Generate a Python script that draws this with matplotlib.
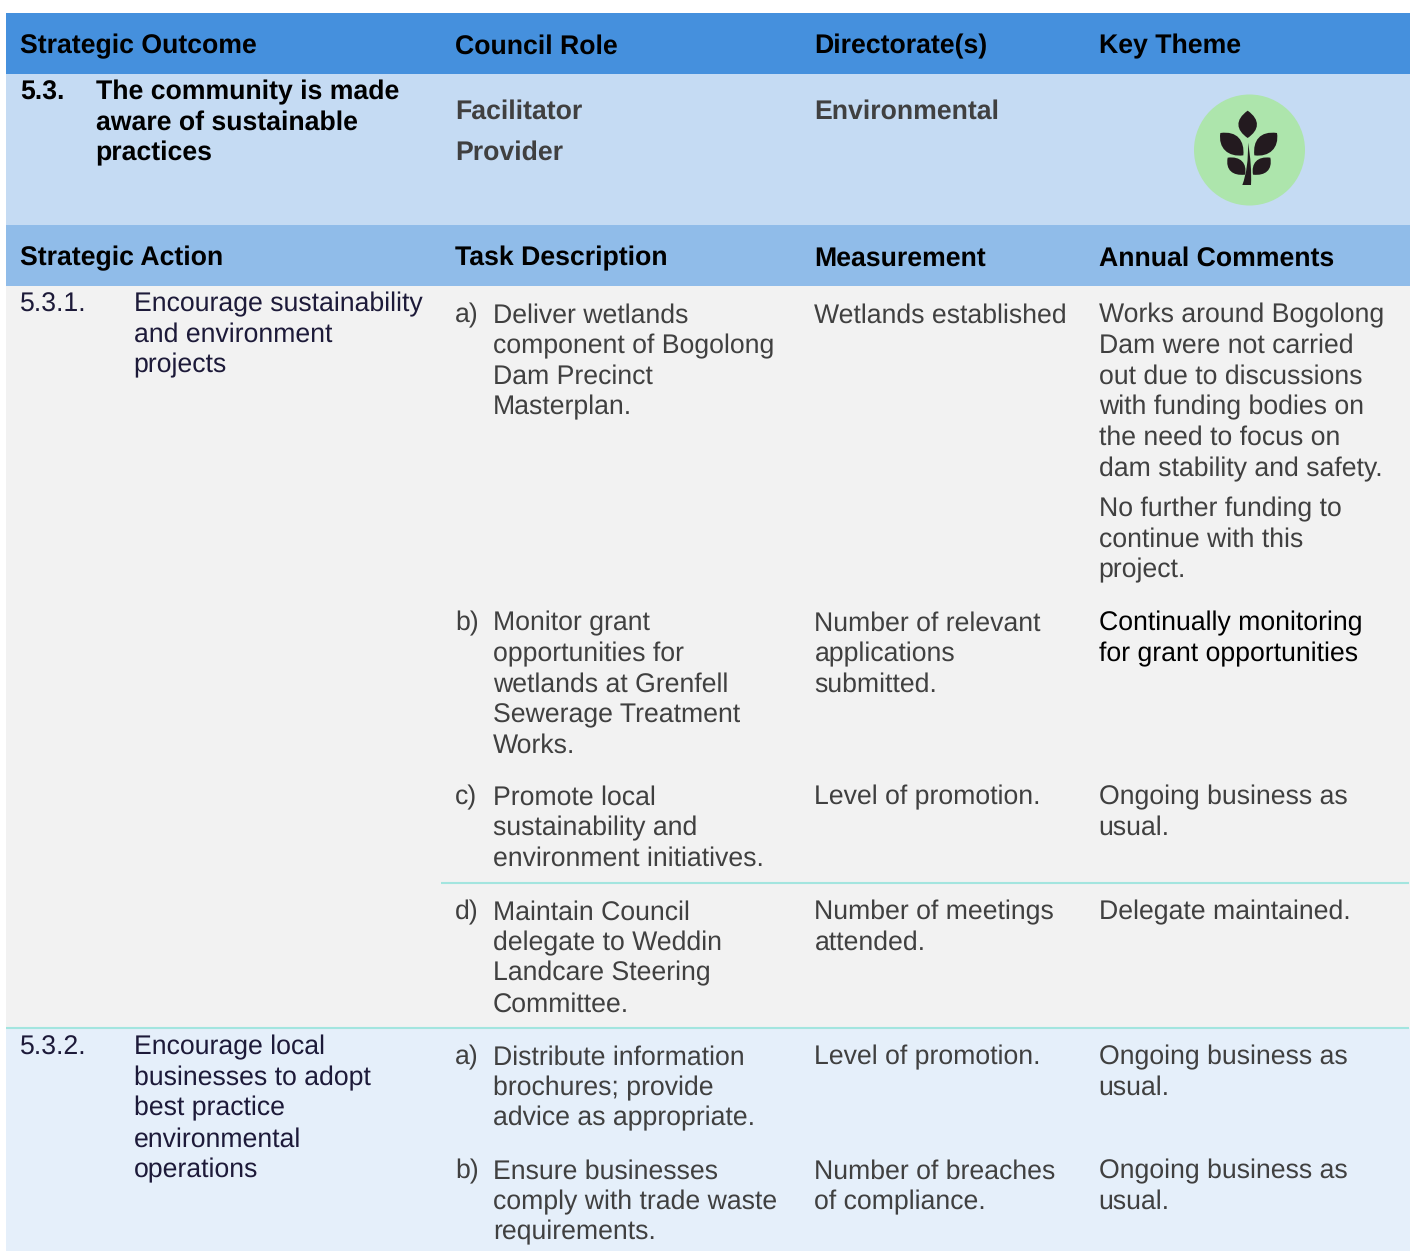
import matplotlib
matplotlib.use("Agg")
import matplotlib.pyplot as plt
import matplotlib.patches as patches
from matplotlib.path import Path

plt.rcParams['font.family'] = ['Liberation Sans', 'DejaVu Sans']
plt.rcParams['text.hinting'] = 'no_hinting'

header_top = ["Strategic Outcome", "Council Role", "Directorate(s)", "Key Theme"]
header_action = ["Strategic Action", "Task Description", "Measurement", "Annual Comments"]
outcome_no = "5.3."
outcome_text = ["The community is made", "aware of sustainable", "practices"]
council_roles = ["Facilitator", "Provider"]
directorate = "Environmental"

action_1_no = "5.3.1."
action_1 = ["Encourage sustainability", "and environment", "projects"]
action_2_no = "5.3.2."
action_2 = ["Encourage local", "businesses to adopt", "best practice", "environmental", "operations"]

task_labels = ["a)", "b)", "c)", "d)", "a)", "b)"]
tasks = [
    ["Deliver wetlands", "component of Bogolong", "Dam Precinct", "Masterplan."],
    ["Monitor grant", "opportunities for", "wetlands at Grenfell", "Sewerage Treatment", "Works."],
    ["Promote local", "sustainability and", "environment initiatives."],
    ["Maintain Council", "delegate to Weddin", "Landcare Steering", "Committee."],
    ["Distribute information", "brochures; provide", "advice as appropriate."],
    ["Ensure businesses", "comply with trade waste", "requirements."],
]
measures = [
    ["Wetlands established"],
    ["Number of relevant", "applications", "submitted."],
    ["Level of promotion."],
    ["Number of meetings", "attended."],
    ["Level of promotion."],
    ["Number of breaches", "of compliance."],
]
comments = [
    ["Works around Bogolong", "Dam were not carried", "out due to discussions", "with funding bodies on",
     "the need to focus on", "dam stability and safety."],
    ["Continually monitoring", "for grant opportunities"],
    ["Ongoing business as", "usual."],
    ["Delegate maintained."],
    ["Ongoing business as", "usual."],
    ["Ongoing business as", "usual."],
]
comment_extra = ["No further funding to", "continue with this", "project."]

row_y = [313, 621, 795, 910, 1055, 1169]
col_x = [20, 455, 814.5, 1098.7]
LINE = 30.7
SIZE = 19.2
GREY = '#404040'
NAVY = '#1d1a39'


def block(ax, x, y, lines, color=GREY, weight='normal'):
    # y is the vertical centre of the first line, in pixels
    for i, line in enumerate(lines):
        ax.text(x, y + i * LINE + 9.4, line, color=color, fontsize=SIZE, fontweight=weight, va='baseline', ha='left')


def band(ax, y0, y1, color):
    ax.add_patch(patches.Rectangle((6, y0), 1404, y1 - y0, facecolor=color, edgecolor='none'))


def icon(ax):
    def conv(pts):
        return [(1150 + px / 3, 70 + py / 3) for px, py in pts]
    C3, C4, M, L = Path.CURVE3, Path.CURVE4, Path.MOVETO, Path.LINETO
    leaf = [M, C4, C4, C4, C4, C4, C4]
    shapes = [
        ([(293, 122), (332, 150), (328, 180), (293, 204), (258, 180), (254, 150), (293, 122)], leaf),
        ([(211, 189), (262, 182), (284, 212), (280, 256), (234, 262), (204, 234), (211, 189)], leaf),
        ([(381, 189), (330, 182), (308, 212), (313, 256), (358, 262), (388, 234), (381, 189)], leaf),
        ([(233, 263), (272, 258), (292, 280), (285, 314), (248, 318), (226, 300), (233, 263)], leaf),
        ([(361, 263), (322, 258), (303, 280), (309, 314), (346, 318), (368, 300), (361, 263)], leaf),
        ([(294, 218), (306, 285), (303, 345), (277, 345), (296, 295), (294, 218)], [M, C3, C3, L, C3, C3]),
    ]
    for pts, codes in shapes:
        ax.add_patch(patches.PathPatch(Path(conv(pts), codes), facecolor='#231a1f', edgecolor='none'))


fig = plt.figure(figsize=(14.15, 12.51), dpi=100)
ax = fig.add_axes([0, 0, 1, 1])
ax.set_xlim(0, 1415)
ax.set_ylim(1251, 0)
ax.axis('off')

band(ax, 13, 74, '#4590dd')
band(ax, 74, 225, '#c5dbf3')
band(ax, 225, 286, '#90bce9')
band(ax, 286, 1028, '#f2f2f2')
band(ax, 1028, 1251, '#e5effa')

ax.plot([441, 1409], [883, 883], color='#a3e5df', lw=1.5, solid_capstyle='butt')
ax.plot([6, 1409], [1028, 1028], color='#a3e5df', lw=1.5, solid_capstyle='butt')

for x, head in zip(col_x, header_top):
    block(ax, x, 44, [head], color='black', weight='bold')
for x, head in zip(col_x, header_action):
    block(ax, x, 256, [head], color='black', weight='bold')

block(ax, 20, 90, [outcome_no], color='black', weight='bold')
block(ax, 95.6, 90, outcome_text, color='black', weight='bold')
block(ax, 455, 109, council_roles[:1], weight='bold')
block(ax, 455, 150, council_roles[1:], weight='bold')
block(ax, 814.5, 109, [directorate], weight='bold')

ax.add_patch(patches.Circle((1249.5, 150), 55.5, facecolor='#ade5ac', edgecolor='none'))
icon(ax)

block(ax, 20, 302, [action_1_no], color=NAVY)
block(ax, 133.6, 302, action_1, color=NAVY)
block(ax, 20, 1045, [action_2_no], color=NAVY)
block(ax, 133.6, 1045, action_2, color=NAVY)

for i, y in enumerate(row_y):
    block(ax, 455, y, [task_labels[i]])
    block(ax, 493, y, tasks[i])
    block(ax, 814.5, y, measures[i])
    block(ax, 1098.7, y, comments[i], color='black' if i == 1 else GREY)
block(ax, 1098.7, 507, comment_extra)

fig.savefig('out.png', dpi=100)
